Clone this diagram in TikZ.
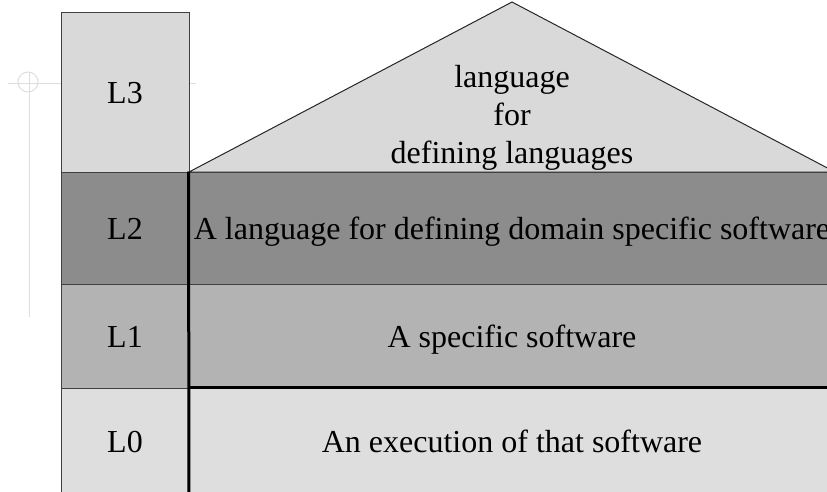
\documentclass[tikz,border=0pt]{standalone}
\usepackage{fontspec}
\setmainfont{Liberation Serif}
\begin{document}
\begin{tikzpicture}[x=1pt,y=-1pt,
  txt/.style={font=\fontsize{32}{38}\selectfont, text=black},
  cell/.style={draw=black!75, line width=1pt, inner sep=0pt, txt, text height=22pt, text depth=0pt},
  guide/.style={draw=black!13, line width=1pt},
  heavy/.style={draw=black, line width=3pt}]
\useasboundingbox (0,0) rectangle (827,491);
\clip (0,0) rectangle (827,491);
\definecolor{gA}{HTML}{D9D9D9}
\definecolor{gB}{HTML}{8C8C8C}
\definecolor{gC}{HTML}{B3B3B3}
\definecolor{gD}{HTML}{DEDEDE}
% guide cross
\coordinate (gc) at (28,82);
\coordinate (gl) at (8,83);
\coordinate (gr) at (196,83);
\coordinate (gt) at (29,72);
\coordinate (gb) at (29,317);
\draw[guide] (gl) -- (gr);
\draw[guide] (gt) -- (gb);
\draw[guide] (gc) circle (10);
% left column
\node[cell, fill=gA, minimum width=128, minimum height=160] (L3) at (125,92) {L3};
\node[cell, fill=gB, minimum width=128, minimum height=112] (L2) at (125,228) {L2};
\node[cell, fill=gC, minimum width=128, minimum height=104] (L1) at (125,336) {L1};
\node[cell, fill=gD, minimum width=128, minimum height=106] (L0) at (125,441) {L0};
% roof
\coordinate (rl) at (189,172);
\coordinate (ra) at (512,2);
\coordinate (rr) at (835,172);
\draw[draw=black!85, line width=1pt, fill=gA] (rl) -- (ra) -- (rr) -- cycle;
\node[txt, align=center, anchor=base] (roof) at (512,163) {language\\for\\defining languages};
% rows
\node[cell, fill=gB, minimum width=646, minimum height=112] (R2) at (512,228) {A language for defining domain specific software};
\node[cell, fill=gC, minimum width=646, minimum height=104] (R1) at (512,336) {A specific software};
\node[cell, fill=gD, minimum width=646, minimum height=106] (R0) at (512,441) {An execution of that software};
% heavy lines
\coordinate (vb) at (189,495);
\draw[heavy] (R2.north west) -- (vb);
\draw[heavy] (R0.north west) -- (R0.north east);
\end{tikzpicture}
\end{document}
